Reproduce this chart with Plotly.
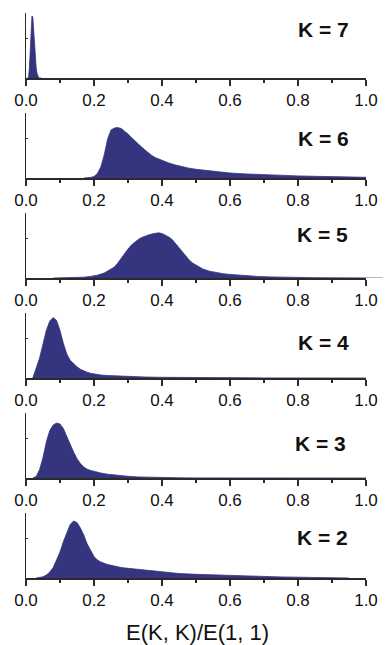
import plotly.graph_objects as go

# ---- data (y in arbitrary histogram units) ----
K_values = [7, 6, 5, 4, 3, 2]

K7_x = [0.005, 0.0075, 0.01, 0.0125, 0.015, 0.0175, 0.02, 0.0225, 0.025, 0.0275, 0.03, 0.0325, 0.035, 0.0375, 0.04, 0.045]
K7_y = [0, 0.1, 1.0, 2.8, 4.8, 6.2, 6.1, 4.6, 3.3, 2.0, 1.0, 0.45, 0.15, 0.03, 0.01, 0]

K6_x = [0.17, 0.18, 0.19, 0.20, 0.21, 0.22, 0.23, 0.24, 0.25, 0.26, 0.27, 0.28, 0.29, 0.30, 0.31,
        0.32, 0.33, 0.34, 0.35, 0.36, 0.37, 0.38, 0.39, 0.40, 0.42, 0.44, 0.46, 0.48, 0.50,
        0.55, 0.60, 0.65, 0.70, 0.75, 0.80, 0.85, 0.90, 0.95, 1.00]
K6_y = [0, 0.02, 0.06, 0.15, 0.45, 1.1, 2.3, 3.9, 4.8, 5.0, 5.05, 4.95, 4.7, 4.4, 4.05,
        3.7, 3.4, 3.1, 2.8, 2.5, 2.25, 2.05, 1.9, 1.75, 1.5, 1.3, 1.12, 0.98, 0.87,
        0.65, 0.5, 0.4, 0.32, 0.26, 0.21, 0.17, 0.13, 0.1, 0.07]

K5_x = [0.08, 0.12, 0.15, 0.17, 0.19, 0.21, 0.23, 0.25, 0.26, 0.27, 0.28, 0.29, 0.30, 0.31, 0.32,
        0.33, 0.34, 0.35, 0.36, 0.37, 0.38, 0.39, 0.40, 0.41, 0.42, 0.43, 0.44, 0.45, 0.46,
        0.47, 0.48, 0.49, 0.50, 0.52, 0.54, 0.56, 0.58, 0.60, 0.64, 0.68, 0.72, 0.78, 0.85, 1.0]
K5_y = [0, 0.01, 0.03, 0.08, 0.16, 0.28, 0.5, 0.85, 1.1, 1.5, 2.0, 2.45, 2.9, 3.3, 3.6,
        3.85, 4.05, 4.2, 4.3, 4.4, 4.45, 4.52, 4.45, 4.3, 4.1, 3.85, 3.45, 3.0, 2.55,
        2.15, 1.8, 1.5, 1.27, 0.9, 0.68, 0.52, 0.43, 0.36, 0.25, 0.16, 0.11, 0.06, 0.03, 0.01]

K4_x = [0.02, 0.03, 0.04, 0.05, 0.06, 0.07, 0.08, 0.09, 0.10, 0.11, 0.12, 0.13, 0.14, 0.15, 0.16,
        0.17, 0.18, 0.19, 0.20, 0.22, 0.24, 0.26, 0.28, 0.30, 0.35, 0.40, 0.45, 0.50, 0.60, 0.70, 1.0]
K4_y = [0, 0.9, 2.0, 3.4, 4.8, 5.7, 6.05, 5.75, 4.75, 3.45, 2.4, 1.77, 1.4, 1.12, 0.87,
        0.7, 0.57, 0.47, 0.4, 0.3, 0.25, 0.21, 0.18, 0.15, 0.1, 0.07, 0.05, 0.03, 0.015, 0.01, 0]

K3_x = [0.02, 0.03, 0.04, 0.05, 0.06, 0.07, 0.08, 0.09, 0.10, 0.11, 0.12, 0.13, 0.14, 0.15, 0.16,
        0.17, 0.18, 0.19, 0.20, 0.22, 0.24, 0.26, 0.28, 0.30, 0.33, 0.36, 0.40, 0.45, 0.50, 0.60, 1.0]
K3_y = [0, 0.15, 0.85, 2.05, 3.65, 4.75, 5.3, 5.5, 5.4, 4.95, 4.15, 3.3, 2.6, 1.93, 1.45,
        1.1, 0.88, 0.76, 0.66, 0.5, 0.38, 0.3, 0.22, 0.17, 0.11, 0.07, 0.04, 0.02, 0.01, 0.005, 0]

K2_x = [0.03, 0.04, 0.05, 0.06, 0.07, 0.08, 0.09, 0.10, 0.11, 0.12, 0.13, 0.14, 0.15, 0.16, 0.17,
        0.18, 0.19, 0.20, 0.21, 0.22, 0.24, 0.26, 0.28, 0.30, 0.33, 0.36, 0.40, 0.45, 0.50,
        0.55, 0.60, 0.65, 0.70, 0.75, 0.80, 0.85, 0.90, 0.95]
K2_y = [0, 0.03, 0.12, 0.3, 0.6, 1.05, 1.75, 2.6, 3.65, 4.6, 5.35, 5.7, 5.55, 5.0, 4.3,
        3.4, 2.7, 2.15, 1.8, 1.6, 1.35, 1.17, 1.05, 0.97, 0.87, 0.78, 0.62, 0.45, 0.37,
        0.3, 0.23, 0.2, 0.16, 0.11, 0.07, 0.04, 0.02, 0]

series_x = [K7_x, K6_x, K5_x, K4_x, K3_x, K2_x]
series_y = [K7_y, K6_y, K5_y, K4_y, K3_y, K2_y]

x_tickvals = [0.0, 0.2, 0.4, 0.6, 0.8, 1.0]
x_ticktext = ["0.0", "0.2", "0.4", "0.6", "0.8", "1.0"]
x_title = "E(K, K)/E(1, 1)"

# ---- layout geometry (pixels) ----
W, H = 390, 645
L, R, T, B = 26, 17, 13, 67
plot_h = H - T - B          # 565
plot_w = W - L - R          # 347
panel_h = 65
pitch = 100

FILL = "#35347f"
AXC = "#2a2a2a"
FONT = "Arial, Liberation Sans, sans-serif"

def py2paper(py):
    return (H - B - py) / plot_h

def px2paper(px):
    return (px - L) / plot_w

fig = go.Figure()
layout = dict(
    width=W, height=H,
    margin=dict(l=L, r=R, t=T, b=B, pad=0),
    paper_bgcolor="white", plot_bgcolor="white",
    showlegend=False,
    font=dict(family=FONT, color="#111111"),
)

k_label_y = [30, 138, 235, 342, 443, 537]
k_label_x = [358, 358, 357, 358, 355, 357]
annotations = []

for i, K in enumerate(K_values):
    n = i + 1
    xa = "x" if n == 1 else f"x{n}"
    ya = "y" if n == 1 else f"y{n}"
    top_px = T + pitch * i
    base_px = top_px + panel_h
    dom = [py2paper(base_px), py2paper(top_px)]

    fig.add_trace(go.Scatter(
        x=series_x[i], y=series_y[i], mode="lines",
        line=dict(color=FILL, width=0.8),
        fill="tozeroy", fillcolor=FILL,
        xaxis=xa, yaxis=ya, hoverinfo="skip",
    ))

    layout[f"xaxis{'' if n == 1 else n}"] = dict(
        domain=[0, 1], anchor=ya, range=[0, 1],
        tickvals=x_tickvals, ticktext=x_ticktext,
        ticks="outside", ticklen=6, tickwidth=1.5, tickcolor=AXC,
        minor=dict(dtick=0.1, tick0=0, ticks="outside", ticklen=3, tickwidth=1.5, tickcolor=AXC),
        showline=True, linecolor=AXC, linewidth=2,
        showgrid=False, zeroline=False,
        tickfont=dict(size=17, family=FONT, color="#111111"),
        fixedrange=True,
    )
    layout[f"yaxis{'' if n == 1 else n}"] = dict(
        domain=dom, anchor=xa, range=[0, 6.5],
        tickvals=[4], ticks="inside", ticklen=2, tickwidth=1, tickcolor=AXC,
        showticklabels=False,
        showline=True, linecolor=AXC, linewidth=1.5,
        showgrid=False, zeroline=False, fixedrange=True,
    )

    annotations.append(dict(
        text=f"<b>K = {K}</b>", xref="paper", yref="paper",
        x=px2paper(k_label_x[i]), y=py2paper(k_label_y[i]),
        xanchor="right", yanchor="middle", showarrow=False,
        font=dict(size=21, family=FONT, color="#111111"),
    ))

annotations.append(dict(
    text=x_title, xref="paper", yref="paper",
    x=px2paper(201), y=py2paper(632),
    xanchor="center", yanchor="middle", showarrow=False,
    font=dict(size=22, family=FONT, color="#111111"),
))

layout["annotations"] = annotations
layout["shapes"] = [dict(
    type="line", xref="paper", yref="y3",
    x0=1.0, x1=px2paper(390), y0=0, y1=0,
    line=dict(color="#9c9ccc", width=1.5),
)]

fig.update_layout(**layout)
fig.write_html(
    "out.html",
    config={"displayModeBar": False, "staticPlot": True},
    post_script="document.body.style.margin='0';document.body.style.overflow='hidden';",
)
